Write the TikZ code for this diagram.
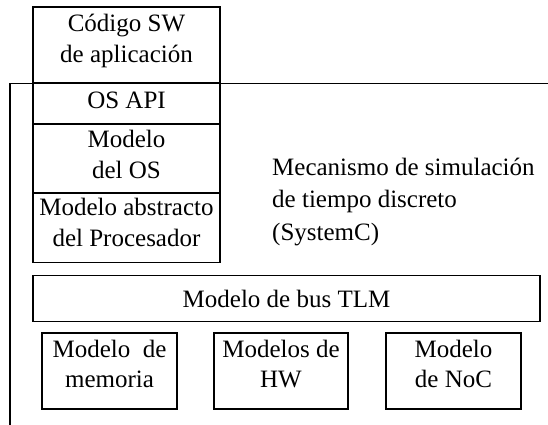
\documentclass[tikz,border=0pt]{standalone}
\usepackage{fontspec}
\setmainfont{Liberation Serif}
\begin{document}
\begin{tikzpicture}[x=1pt,y=-1pt,
  box/.style={draw, line width=1.3pt, inner sep=0pt},
  % multi-line texts are placed by the baseline of their last line
  txt/.style={inner sep=0pt, align=center, anchor=base,
    font=\fontsize{25}{31}\selectfont},
  txtb/.style={txt, font=\fontsize{25}{30}\selectfont},
  lbl/.style={inner sep=0pt, align=left, anchor=base west,
    font=\fontsize{25}{32.5}\selectfont}]
\useasboundingbox (0,0) rectangle (548,425);
% software stack
\node[box, minimum width=187, minimum height=76] (app) at (126.5,45) {};
\node[box, minimum width=187, minimum height=40.5] (api) at (126.5,103.75) {};
\node[box, minimum width=187, minimum height=69] (os) at (126.5,158.5) {};
\node[box, minimum width=187, minimum height=69.5] (proc) at (126.5,227.75) {};
\node[txt] (appt) at (126.5,62.5) {Código SW\\de aplicación};
\node[txt] (apit) at (126.5,108) {OS API};
\node[txt] (ost) at (126.5,178.5) {Modelo\\del OS};
\node[txt] (proct) at (126.5,246.5) {Modelo abstracto\\del Procesador};
% simulation kernel border
\coordinate (kt) at (10,83.5);
\coordinate (kr) at (548,83.5);
\coordinate (kb) at (10,425);
\draw[line width=1.3pt] (kr) -- (kt) -- (kb);
\node[lbl] (kern) at (272,240) {Mecanismo de simulación\\de tiempo discreto\\(SystemC)};
% bus and peripherals
\node[box, minimum width=507, minimum height=46] (bus) at (286.5,298.5) {};
\node[txt] (bust) at (286.5,307) {Modelo de bus TLM};
\node[box, minimum width=135, minimum height=76] (mem) at (109.5,371) {};
\node[box, minimum width=134, minimum height=76] (hw) at (281,371) {};
\node[box, minimum width=135, minimum height=76] (noc) at (453.5,371) {};
\node[txtb] (memt) at (109.5,387) {Modelo\ \ de\\memoria};
\node[txtb] (hwt) at (281,387) {Modelos de\\HW};
\node[txtb] (noct) at (453.5,387) {Modelo\\de NoC};
\end{tikzpicture}
\end{document}
